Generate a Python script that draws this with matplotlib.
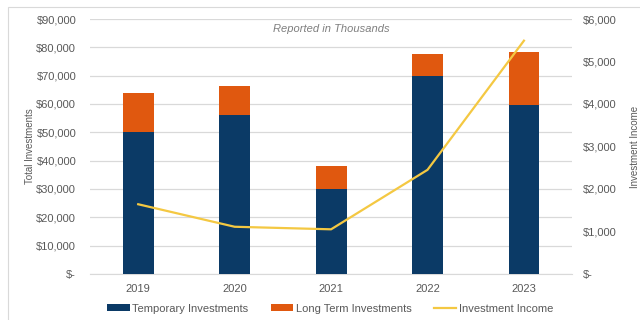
import matplotlib.pyplot as plt
from matplotlib.patches import Rectangle
from matplotlib.ticker import FuncFormatter

plt.rcParams['font.family'] = ['Liberation Sans', 'DejaVu Sans']

years = ["2019", "2020", "2021", "2022", "2023"]
temporary = [50000, 56000, 30000, 70000, 59500]
long_term = [14000, 10500, 8000, 7800, 18800]
income = [1640, 1110, 1050, 2450, 5490]

navy = "#0B3A66"
orange = "#E0580F"
yellow = "#F4C842"
grey_text = "#595959"
grid = "#D9D9D9"


def money(v, pos):
    return "$-" if v == 0 else f"${v:,.0f}"


fig = plt.figure(figsize=(6.4, 3.2), dpi=100)
ax1 = fig.add_axes([0.1406, 0.144, 0.7534, 0.7966])
x = range(len(years))

ax1.bar(x, temporary, width=0.32, color=navy, label="Temporary Investments", zorder=3)
ax1.bar(x, long_term, width=0.32, bottom=temporary, color=orange,
        label="Long Term Investments", zorder=3)
ax1.set_xlim(-0.5, 4.5)
ax1.set_ylim(0, 90000)
ax1.set_yticks(range(0, 90001, 10000))
ax1.yaxis.set_major_formatter(FuncFormatter(money))
ax1.set_xticks(list(x))
ax1.set_xticklabels(years)
ax1.grid(axis="y", color=grid, linewidth=0.9, zorder=0)
ax1.set_axisbelow(True)
for s in ["top", "right", "left"]:
    ax1.spines[s].set_visible(False)
ax1.spines["bottom"].set_color(grid)
ax1.tick_params(axis="both", length=0, colors=grey_text, labelsize=8)
ax1.tick_params(axis="y", pad=10)
ax1.tick_params(axis="x", pad=7)
ax1.set_ylabel("Total Investments", fontsize=7, color=grey_text, labelpad=1)

ax2 = ax1.twinx()
ax2.plot(x, income, color=yellow, linewidth=1.6, label="Investment Income", zorder=4)
ax2.set_ylim(0, 6000)
ax2.set_yticks(range(0, 6001, 1000))
ax2.yaxis.set_major_formatter(FuncFormatter(money))
for s in ["top", "right", "left", "bottom"]:
    ax2.spines[s].set_visible(False)
ax2.tick_params(axis="y", length=0, colors=grey_text, labelsize=8, pad=8)
ax2.set_ylabel("Investment Income", fontsize=7, color=grey_text, labelpad=9)

ax1.text(0.5, 0.961, "Reported in Thousands", transform=ax1.transAxes,
         ha="center", va="center", fontsize=8, style="italic", color="#7F7F7F")

h1, l1 = ax1.get_legend_handles_labels()
h2, l2 = ax2.get_legend_handles_labels()
fig.legend(h1 + h2, l1 + l2, loc="center", bbox_to_anchor=(0.516, 0.035), ncol=3,
           frameon=False, fontsize=8, labelcolor=grey_text, handlelength=2.0,
           handleheight=0.6, handletextpad=0.25, columnspacing=2.0)

# light outer frame
fig.patches.append(Rectangle((0.0125, -0.1), 1.2, 1.078, transform=fig.transFigure,
                             fill=False, edgecolor="#D9D9D9", linewidth=0.8))

fig.savefig("out.png", dpi=100)
plt.close(fig)
